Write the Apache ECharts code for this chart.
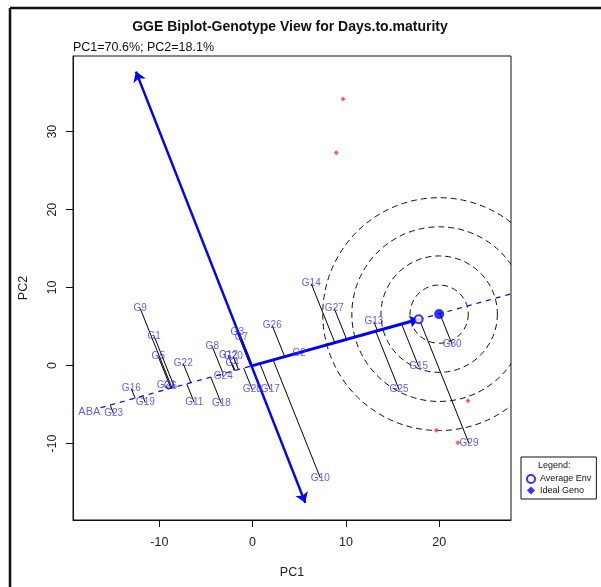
<!DOCTYPE html>
<html>
<head>
<meta charset="utf-8">
<script src="https://cdn.jsdelivr.net/npm/echarts@6/dist/echarts.min.js"></script>
<style>
html, body { margin: 0; padding: 0; background: #fff; }
#main { width: 601px; height: 587px; }
</style>
</head>
<body>
<div id="main"></div>
<script>
// genotype scores
var genoNames = ['G1','G2','G3','G4','G5','G6','G7','G8','G9','G10',
                 'G11','G12','G13','G14','G15','G16','G17','G18','G19','G20',
                 'G21','G22','G23','G24','G25','G26','G27','G28','G29','G30'];
var genoPC1 = [-10.54, 5.0, -1.64, -2.18, -10.11, -8.8, -1.21, -4.32, -12.04, 7.26,
               -6.25, -2.6, 13.0, 6.29, 17.8, -13.0, 1.9, -3.35, -11.5, -2.07,
               -9.25, -7.43, -14.9, -3.14, 15.7, 2.11, 8.76, -0.03, 23.2, 21.4];
var genoPC2 = [3.72, 1.54, 4.23, 0.26, 1.15, -2.6, 3.59, 2.44, 7.31, -14.4,
               -4.74, 1.28, 5.64, 10.5, -0.13, -2.95, -3.08, -4.87, -4.74, 1.15,
               -2.56, 0.26, -6.15, -1.41, -3.08, 5.13, 7.31, -3.08, -10.0, 2.69];

// environment markers (red)
var envPC1 = [9.7, 8.97, 23.1, 19.7, 22.0];
var envPC2 = [34.2, 27.3, -4.5, -8.3, -9.9];

var avgEnv = [17.8, 5.95];
var idealGeno = [20.0, 6.6];
var aeaLeft = [-16.3, -5.4];
var aeaRight = [27.7, 9.19];
var abaLabel = [-17.5, -5.9];
var aecTop = [-12.5, 37.7];
var aecBottom = [5.65, -17.6];
var ringRadii = [3.12, 6.24, 9.36, 12.48];

var xTicks = [-10, 0, 10, 20];
var yTicks = [-10, 0, 10, 20, 30];

var blue = '#0000ff';
var labelBlue = '#3434ff';
var font = 'Liberation Sans, Arial, sans-serif';

// unit vector of the average environment axis
var len = Math.sqrt(avgEnv[0] * avgEnv[0] + avgEnv[1] * avgEnv[1]);
var ux = avgEnv[0] / len, uy = avgEnv[1] / len;

var genoPoints = [];
var projLines = [];
for (var i = 0; i < genoNames.length; i++) {
	genoPoints.push([genoPC1[i], genoPC2[i], genoNames[i]]);
	var d = genoPC1[i] * ux + genoPC2[i] * uy;
	projLines.push({ coords: [[genoPC1[i], genoPC2[i]], [d * ux, d * uy]] });
}
var envPoints = [];
for (var j = 0; j < envPC1.length; j++) {
	envPoints.push([envPC1[j], envPC2[j]]);
}
var rings = [];
for (var k = 0; k < ringRadii.length; k++) {
	rings.push([idealGeno[0], idealGeno[1], ringRadii[k]]);
}

var myChart = echarts.init(document.getElementById('main'));
var option = {
	backgroundColor: '#fff',
	animation: false,
	textStyle: { fontFamily: font },
	title: [{
		text: 'GGE Biplot-Genotype View for Days.to.maturity',
		left: 290, top: 20, textAlign: 'center', padding: 0,
		textStyle: { fontSize: 14, fontWeight: 'bold', color: '#111', fontFamily: font }
	}, {
		text: 'PC1=70.6%; PC2=18.1%',
		left: 73, top: 41, padding: 0,
		textStyle: { fontSize: 12.5, fontWeight: 'normal', color: '#111', fontFamily: font }
	}],
	grid: {
		left: 73, right: 90, top: 56, bottom: 67,
		show: true, borderColor: '#111', borderWidth: 1, backgroundColor: 'transparent'
	},
	legend: {
		orient: 'vertical',
		left: 521, top: 457,
		padding: [17, 5, 4, 5],
		borderColor: '#111', borderWidth: 1,
		itemWidth: 8, itemHeight: 8, itemGap: 2,
		textStyle: { fontSize: 9, color: '#111', fontFamily: font },
		data: [{ name: 'Average Env', icon: 'emptyCircle' }, { name: 'Ideal Geno', icon: 'diamond' }]
	},
	xAxis: {
		type: 'value', min: -19.25, max: 27.7,
		name: 'PC1', nameLocation: 'middle', nameGap: 46,
		nameTextStyle: { fontSize: 12.5, color: '#222', fontFamily: font },
		axisLine: { onZero: false, lineStyle: { color: '#111' } },
		axisTick: { show: true, length: 7, customValues: xTicks, lineStyle: { color: '#111' } },
		axisLabel: { customValues: xTicks, margin: 16, fontSize: 12.5, color: '#222', fontFamily: font },
		splitLine: { show: false }
	},
	yAxis: {
		type: 'value', min: -19.8, max: 39.7,
		name: 'PC2', nameLocation: 'middle', nameGap: 43,
		nameTextStyle: { fontSize: 12.5, color: '#222', fontFamily: font },
		axisLine: { onZero: false, lineStyle: { color: '#111' } },
		axisTick: { show: true, length: 7, customValues: yTicks, lineStyle: { color: '#111' } },
		axisLabel: { customValues: yTicks, rotate: 90, margin: 14, fontSize: 12.5, color: '#222', fontFamily: font },
		splitLine: { show: false }
	},
	series: [{
		// concentric rings round the ideal genotype
		type: 'custom',
		clip: true,
		silent: true,
		z: 2,
		data: rings,
		renderItem: function(params, api) {
			var c = api.coord([api.value(0), api.value(1)]);
			var r = api.size([api.value(2), 0])[0];
			return {
				type: 'circle',
				shape: { cx: c[0], cy: c[1], r: r },
				style: { fill: 'none', stroke: '#111', lineWidth: 1, lineDash: [6, 4] }
			};
		}
	}, {
		// average environment axis
		type: 'lines',
		coordinateSystem: 'cartesian2d',
		silent: true,
		z: 3,
		symbol: 'none',
		lineStyle: { color: blue, width: 1.2, type: [5, 5], opacity: 1 },
		data: [{ coords: [aeaLeft, aeaRight] }]
	}, {
		// projections of genotypes on the axis
		type: 'lines',
		coordinateSystem: 'cartesian2d',
		silent: true,
		z: 4,
		symbol: 'none',
		lineStyle: { color: '#000', width: 1, opacity: 1 },
		data: projLines
	}, {
		// ordinate arrow
		type: 'lines',
		coordinateSystem: 'cartesian2d',
		silent: true,
		z: 5,
		symbol: ['arrow', 'arrow'],
		symbolSize: 10,
		lineStyle: { color: blue, width: 2.5, opacity: 1 },
		data: [{ coords: [aecBottom, aecTop] }]
	}, {
		type: 'lines',
		coordinateSystem: 'cartesian2d',
		silent: true,
		z: 5,
		symbol: ['none', 'arrow'],
		symbolSize: 9,
		lineStyle: { color: blue, width: 3, opacity: 1 },
		data: [{ coords: [[0, 0], avgEnv] }]
	}, {
		type: 'scatter',
		silent: true,
		z: 6,
		symbol: 'diamond',
		symbolSize: 5,
		itemStyle: { color: '#ff4040', opacity: 0.85 },
		data: envPoints
	}, {
		name: 'Average Env',
		type: 'scatter',
		silent: true,
		z: 7,
		symbol: 'emptyCircle',
		symbolSize: 8,
		itemStyle: { color: blue, borderColor: blue, borderWidth: 1.5 },
		data: [avgEnv]
	}, {
		name: 'Ideal Geno',
		type: 'scatter',
		silent: true,
		z: 7,
		symbol: 'circle',
		symbolSize: 10,
		itemStyle: { color: blue },
		data: [idealGeno]
	}, {
		// genotype labels
		type: 'scatter',
		silent: true,
		z: 8,
		symbolSize: 0.1,
		itemStyle: { color: 'transparent' },
		label: {
			show: true, position: 'inside',
			formatter: function(p) { return p.data[2]; },
			fontSize: 10, color: labelBlue, fontFamily: font
		},
		data: genoPoints
	}, {
		type: 'scatter',
		silent: true,
		z: 8,
		symbolSize: 0.1,
		itemStyle: { color: 'transparent' },
		label: {
			show: true, position: 'inside',
			formatter: 'ABA',
			fontSize: 11, color: labelBlue, fontFamily: font
		},
		data: [abaLabel]
	}],
	graphic: [{
		type: 'line', shape: { x1: 10, y1: 8, x2: 601, y2: 8 },
		style: { stroke: '#111', lineWidth: 2.5 }
	}, {
		type: 'line', shape: { x1: 10, y1: 8, x2: 10, y2: 587 },
		style: { stroke: '#111', lineWidth: 2.5 }
	}, {
		type: 'text', left: 538, top: 461,
		style: { text: 'Legend:', fontSize: 9, fill: '#111', fontFamily: font }
	}]
};
myChart.setOption(option);
</script>
</body>
</html>
